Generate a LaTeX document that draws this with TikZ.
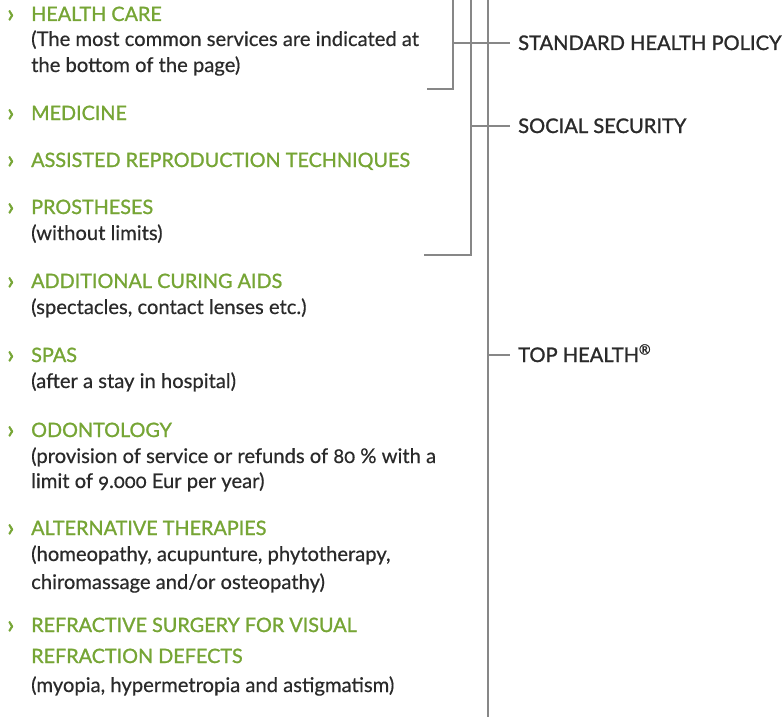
\documentclass[tikz,border=0pt]{standalone}
\usepackage{fontspec}
\setmainfont{Lato}[Numbers=OldStyle]
\newfontfamily\ttlfont{Lato}[Numbers=OldStyle, FakeBold=1.2]
\newfontfamily\bdyfont{Lato}[Numbers=OldStyle, FakeBold=0.5]
\newfontfamily\chevfont{Lato}[FakeBold=2]
\definecolor{hgreen}{HTML}{76A535}
\definecolor{htext}{HTML}{2A2A2A}
\definecolor{hline}{HTML}{878787}
\tikzset{
  ttl/.style={anchor=base west, inner sep=0pt, text=hgreen, font=\ttlfont\fontsize{19.8}{19.8}\selectfont},
  bdy/.style={anchor=base west, inner sep=0pt, text=htext, font=\bdyfont\fontsize{20.2}{20.2}\selectfont},
  chev/.style={anchor=base west, inner sep=0pt, text=hgreen, font=\chevfont\fontsize{25}{25}\selectfont},
  lbl/.style={anchor=base west, inner xsep=8pt, inner ysep=0pt, text height=14pt, text depth=0pt, text=htext, font=\ttlfont\fontsize{20.1}{20.1}\selectfont},
  thin/.style={draw=hline, line width=1.3pt},
  thick/.style={draw=hline, line width=2pt}
}
\begin{document}
\begin{tikzpicture}[x=1pt,y=-1pt]
\useasboundingbox (0,0) rectangle (784,717);
% chevrons and titles
\foreach \n/\y in {1/21,2/120,3/167,4/214,5/288,6/362,7/437,8/535,9/632}{
  \node[chev] (c\n) at (7,\y+1) {›};
}
\node[ttl] (t1) at (31,21) {HEALTH CARE};
\node[bdy] (b1a) at (31,46) {(The most common services are indicated at};
\node[bdy] (b1b) at (31,72) {the bottom of the page)};
\node[ttl] (t2) at (31,120) {MEDICINE};
\node[ttl] (t3) at (31,167) {ASSISTED REPRODUCTION TECHNIQUES};
\node[ttl] (t4) at (31,214) {PROSTHESES};
\node[bdy] (b4) at (31,240) {(without limits)};
\node[ttl] (t5) at (31,288) {ADDITIONAL CURING AIDS};
\node[bdy] (b5) at (31,314) {(spectacles, contact lenses etc.)};
\node[ttl] (t6) at (31,362) {SPAS};
\node[bdy] (b6) at (31,388) {(after a stay in hospital)};
\node[ttl] (t7) at (31,437) {ODONTOLOGY};
\node[bdy] (b7a) at (31,463) {(provision of service or refunds of 80 \% with a};
\node[bdy] (b7b) at (31,488) {limit of 9.000 Eur per year)};
\node[ttl] (t8) at (31,535) {ALTERNATIVE THERAPIES};
\node[bdy] (b8a) at (31,561) {(homeopathy, acupunture, phytotherapy,};
\node[bdy] (b8b) at (31,589) {chiromassage and/or osteopathy)};
\node[ttl] (t9a) at (31,632) {REFRACTIVE SURGERY FOR VISUAL};
\node[ttl] (t9b) at (31,663) {REFRACTION DEFECTS};
\node[bdy] (b9) at (31,692) {(myopia, hypermetropia and astigmatism)};
% right labels
\node[lbl] (std) at (510,50) {STANDARD HEALTH POLICY};
\node[lbl] (soc) at (510,133) {SOCIAL SECURITY};
\node[lbl] (top) at (510,362) {TOP HEALTH\textsuperscript{®}};
% bracket coordinates
\coordinate (v1t) at (453,0);
\coordinate (v1b) at (453,89);
\coordinate (e1) at (427,89);
\coordinate (v2t) at (471,0);
\coordinate (v2b) at (471,255);
\coordinate (e2) at (424,255);
\coordinate (v3t) at (488,0);
\coordinate (v3b) at (488,717);
% connectors
\draw[thin] (e1) -- (v1b) -- (v1t);
\draw[thin] (e2) -- (v2b) -- (v2t);
\draw[thick] (v3t) -- (v3b);
\draw[thin] (v1t |- std.west) -- (std.west);
\draw[thin] (v2t |- soc.west) -- (soc.west);
\draw[thin] (v3t |- top.west) -- (top.west);
\end{tikzpicture}
\end{document}
